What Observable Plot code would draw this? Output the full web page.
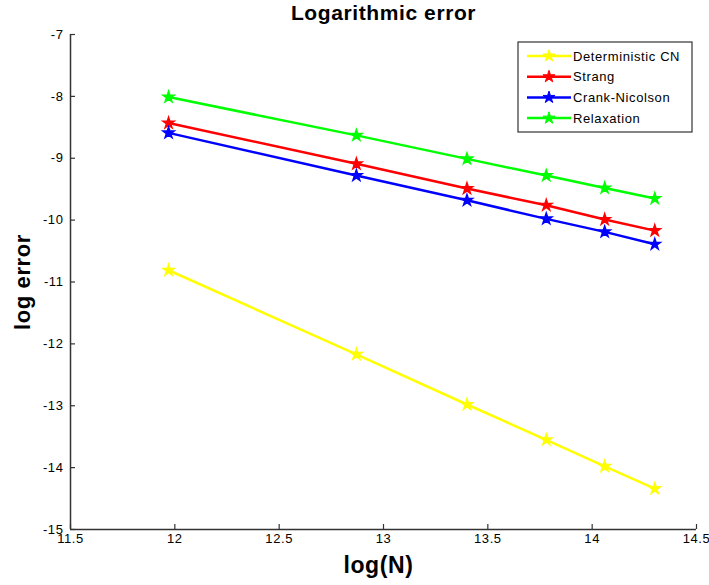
<!DOCTYPE html>
<html><head><meta charset="utf-8">
<script src="https://cdn.jsdelivr.net/npm/d3@7"></script>
<script src="https://cdn.jsdelivr.net/npm/@observablehq/plot@0.6"></script>
<style>
body{margin:0;background:#fff}
#chart{width:709px;height:585px}
</style>
</head><body><div id="chart"></div>
<script>
const logN = [11.97, 12.87, 13.40, 13.78, 14.06, 14.30];
const seriesNames = ["Deterministic CN", "Strang", "Crank-Nicolson", "Relaxation"];
const seriesColors = ["#ffff00", "#ff0000", "#0000ff", "#00ff00"];
const deterministicCN = [-10.81, -12.17, -12.98, -13.55, -13.98, -14.34];
const strang = [-8.43, -9.09, -9.49, -9.76, -9.99, -10.17];
const crankNicolson = [-8.59, -9.28, -9.68, -9.98, -10.19, -10.39];
const relaxation = [-8.01, -8.63, -9.01, -9.28, -9.48, -9.65];
const xTicks = [11.5, 12, 12.5, 13, 13.5, 14, 14.5];
const yTicks = [-15, -14, -13, -12, -11, -10, -9, -8, -7];
const titleText = "Logarithmic error";
const xLabel = "log(N)";
const yLabel = "log error";

const allSeries = [deterministicCN, strang, crankNicolson, relaxation];
const rows = [];
allSeries.forEach((vals, i) => vals.forEach((v, j) => rows.push({series: seriesNames[i], x: logN[j], y: v})));

const font = "'Liberation Sans', Arial, Helvetica, sans-serif";

const W = 709, H = 585, mL = 70, mR = 13, mT = 34, mB = 56;
const xDom = [xTicks[0], xTicks[xTicks.length - 1]];
const yDom = [yTicks[0], yTicks[yTicks.length - 1]];
const tickLen = 5;
const xTickLen = tickLen * (xDom[1] - xDom[0]) / (W - mL - mR);
const yTickLen = tickLen * (yDom[1] - yDom[0]) / (H - mT - mB);

const plot = Plot.plot({
  width: W, height: H,
  marginLeft: mL, marginRight: mR, marginTop: mT, marginBottom: mB,
  style: {fontFamily: font, fontSize: "13px", background: "white", color: "#000", letterSpacing: "0.6px"},
  x: {domain: xDom},
  y: {domain: yDom},
  color: {domain: seriesNames, range: seriesColors},
  marks: [
    // tick labels
    Plot.axisX({ticks: xTicks, tickSize: 0, tickPadding: 4, tickFormat: d => String(d), label: null}),
    Plot.axisY({ticks: yTicks, tickSize: 0, tickPadding: 7, tickFormat: d => String(d), label: null}),
    // inward tick marks
    Plot.ruleX(xTicks, {x: d => d, y1: yDom[0], y2: yDom[0] + yTickLen, stroke: "#333", strokeWidth: 1.2}),
    Plot.ruleY(yTicks, {y: d => d, x1: xDom[0], x2: xDom[0] + xTickLen, stroke: "#333", strokeWidth: 1.2}),
    // axis lines
    Plot.ruleY([yDom[0]], {stroke: "#333", strokeWidth: 1.5}),
    Plot.ruleX([xDom[0]], {stroke: "#333", strokeWidth: 1.5}),
    Plot.line(rows, {x: "x", y: "y", z: "series", stroke: "series", strokeWidth: 2.5}),
    Plot.dot(rows, {x: "x", y: "y", fill: "series", stroke: "series", symbol: "star", r: 3.5}),
    Plot.text([titleText], {frameAnchor: "top", lineAnchor: "middle", textAnchor: "middle", dy: -21, fontSize: 21, fontWeight: "bold", letterSpacing: "1px"}),
    Plot.text([xLabel], {frameAnchor: "bottom", lineAnchor: "middle", textAnchor: "middle", dx: -5, dy: 36, fontSize: 23, fontWeight: "bold", letterSpacing: "0px"}),
    Plot.text([yLabel], {frameAnchor: "left", lineAnchor: "middle", textAnchor: "middle", dx: -48, rotate: -90, fontSize: 22, fontWeight: "bold", letterSpacing: "0px"})
  ]
});
document.getElementById("chart").appendChild(plot);

// legend
const svg = d3.select(plot);
const lg = svg.append("g").attr("font-family", font).attr("font-size", 13).attr("text-anchor", "start");
lg.append("rect").attr("x", 518).attr("y", 42).attr("width", 174).attr("height", 90)
  .attr("fill", "white").attr("stroke", "#333").attr("stroke-width", 1.2);
const star = d3.symbol(d3.symbolStar, 45);
seriesNames.forEach((name, i) => {
  const cy = 56 + i * 20.7;
  lg.append("line").attr("x1", 527).attr("x2", 571).attr("y1", cy).attr("y2", cy)
    .attr("stroke", seriesColors[i]).attr("stroke-width", 2.5);
  lg.append("path").attr("d", star()).attr("transform", `translate(549,${cy})`)
    .attr("fill", seriesColors[i]).attr("stroke", seriesColors[i]);
  lg.append("text").attr("x", 573).attr("y", cy).attr("dy", "0.35em").attr("text-anchor", "start").text(name);
});
</script>
</body></html>
